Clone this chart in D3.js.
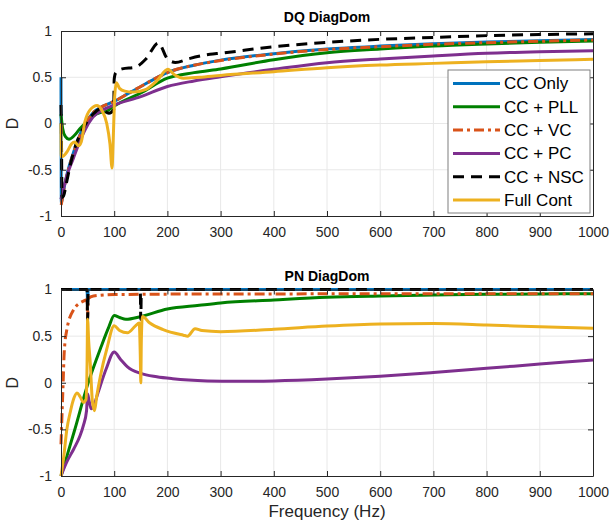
<!DOCTYPE html>
<html>
<head>
<meta charset="utf-8">
<script src="https://cdn.jsdelivr.net/npm/d3@7"></script>
<style>
   body { margin: 0; background: #fff; }
   svg { font-family: Arial, "Liberation Sans", sans-serif; }
</style>
</head>
<body>
<svg width="610" height="523"></svg>
<script>
// tick values
var xTicks = [0, 100, 200, 300, 400, 500, 600, 700, 800, 900, 1000];
var yTicks = [-1, -0.5, 0, 0.5, 1];

var seriesNames = ['CC Only', 'CC + PLL', 'CC + VC', 'CC + PC', 'CC + NSC', 'Full Cont'];

// DQ DiagDom, [frequency Hz, D]
var dqCcOnly = [[0, 0.5], [0.6, -0.86], [5, -0.72], [10, -0.58], [23, -0.32], [42, -0.04], [61, 0.12], [80, 0.19],
   [100, 0.24], [125, 0.32], [150, 0.4], [175, 0.48], [200, 0.55], [250, 0.63], [300, 0.685], [400, 0.755],
   [500, 0.805], [600, 0.837], [700, 0.862], [800, 0.88], [900, 0.895], [1000, 0.908]];
var dqCcPll = [[0, 0.1], [3, -0.05], [8, -0.14], [15, -0.17], [25, -0.13], [35, -0.06], [45, 0.0], [60, 0.08],
   [75, 0.12], [85, 0.13], [100, 0.19], [150, 0.33], [200, 0.49], [250, 0.55], [300, 0.59], [400, 0.69],
   [500, 0.765], [600, 0.805], [700, 0.838], [800, 0.86], [900, 0.878], [1000, 0.892]];
var dqCcVc = [[0.4, -0.88], [5, -0.73], [10, -0.59], [23, -0.33], [42, -0.05], [61, 0.12], [80, 0.19],
   [100, 0.24], [125, 0.32], [150, 0.4], [175, 0.48], [200, 0.55], [250, 0.63], [300, 0.68], [400, 0.75],
   [500, 0.8], [600, 0.83], [700, 0.856], [800, 0.874], [900, 0.889], [1000, 0.903]];
var dqCcPc = [[0, -0.82], [5, -0.7], [12, -0.55], [23, -0.38], [35, -0.2], [45, -0.07], [60, 0.07], [80, 0.15],
   [100, 0.2], [150, 0.29], [200, 0.4], [250, 0.46], [300, 0.505], [400, 0.586], [500, 0.658], [600, 0.697],
   [700, 0.73], [800, 0.759], [900, 0.776], [1000, 0.787]];
var dqCcNsc = [[0, 0.2], [0.5, 0.05], [2, -0.8], [5, -0.78], [10, -0.65], [17, -0.46], [28, -0.23], [40, -0.07],
   [60, 0.1], [75, 0.16], [90, 0.11], [99, 0.15], [100, 0.48], [103, 0.55], [115, 0.59], [140, 0.61], [160, 0.7],
   [183, 0.87], [200, 0.7], [215, 0.66], [240, 0.7], [280, 0.748], [300, 0.76], [400, 0.83], [500, 0.877],
   [600, 0.91], [700, 0.93], [800, 0.95], [900, 0.962], [1000, 0.97]];
var dqFullCont = [[0, 0], [0.5, -0.36], [5, -0.35], [12, -0.3], [20, -0.22], [26, -0.2], [33, -0.24], [38, -0.2],
   [45, 0.02], [55, 0.15], [68, 0.195], [78, 0.13], [86, 0.0], [92, -0.22], [96, -0.48], [98, -0.2], [101, 0.3],
   [104, 0.44], [110, 0.38], [120, 0.35], [135, 0.34], [160, 0.37], [180, 0.46], [201, 0.586], [214, 0.524],
   [230, 0.49], [260, 0.5], [300, 0.52], [400, 0.56], [500, 0.603], [600, 0.632], [700, 0.65], [800, 0.668],
   [900, 0.68], [1000, 0.694]];

// PN DiagDom, [frequency Hz, D]
var pnCcOnly = [[0, 1], [49, 1], [50, 0.85], [51, 1], [1000, 1]];
var pnCcPll = [[0, -1], [12, -0.77], [25, -0.52], [50, -0.02], [75, 0.38], [90, 0.6], [100, 0.72], [110, 0.7],
   [122, 0.68], [150, 0.71], [200, 0.79], [260, 0.83], [300, 0.855], [400, 0.887], [500, 0.916], [600, 0.93],
   [700, 0.94], [800, 0.948], [900, 0.952], [1000, 0.955]];
var pnCcVc = [[0, -0.66], [4, 0.0], [6, 0.32], [11, 0.57], [24, 0.786], [42, 0.875], [49, 0.89], [50, 0.7],
   [51, 0.9], [61, 0.93], [100, 0.946], [300, 0.952], [1000, 0.955]];
var pnCcPc = [[0, -1], [10, -0.86], [24, -0.71], [35, -0.58], [42, -0.46], [48, -0.3], [50, -0.12], [53, -0.2],
   [57, -0.28], [62, -0.24], [70, -0.1], [85, 0.15], [100, 0.33], [112, 0.25], [125, 0.17], [150, 0.1],
   [180, 0.064], [210, 0.043], [275, 0.02], [330, 0.015], [400, 0.02], [500, 0.04], [600, 0.07], [700, 0.11],
   [800, 0.155], [900, 0.2], [1000, 0.245]];
var pnCcNsc = [[0, 1], [49, 1], [50, 0.67], [51, 1], [149, 1], [150, 0.68], [151, 1], [1000, 1]];
var pnFullCont = [[0, -1], [5, -0.8], [11, -0.5], [18, -0.3], [24, -0.17], [30, -0.11], [36, -0.15], [42, -0.21],
   [47, -0.18], [49, 0.2], [50, 0.68], [52, 0.45], [55, 0.21], [59, -0.2], [63, -0.3], [67, -0.15], [74, 0.07],
   [86, 0.36], [100, 0.61], [110, 0.56], [125, 0.535], [140, 0.61], [147, 0.64], [149, 0.3], [150, 0.0],
   [151, 0.45], [153, 0.71], [167, 0.64], [192, 0.57], [230, 0.51], [238, 0.5], [252, 0.58], [265, 0.56],
   [300, 0.548], [400, 0.573], [500, 0.608], [600, 0.63], [700, 0.635], [800, 0.62], [900, 0.6], [1000, 0.584]];

var lineStyles = [
   {color: '#0072BD', dash: null},
   {color: '#008000', dash: null},
   {color: '#D95319', dash: '10,4,3,4'},
   {color: '#7E2F8E', dash: null},
   {color: '#000000', dash: '11,7'},
   {color: '#EDB120', dash: null}
];

var svg = d3.select('svg');
var axisColor = '#262626';

var x = d3.scaleLinear().domain([0, 1000]).range([61, 593]);

function drawPanel(title, yTop, yBottom, seriesData, clipId) {
   var y = d3.scaleLinear().domain([-1, 1]).range([yBottom, yTop]);
   var g = svg.append('g');

   // grid
   g.append('g').selectAll('line').data(xTicks.slice(1, -1)).enter().append('line')
      .attr('x1', function (d) { return x(d); })
      .attr('x2', function (d) { return x(d); })
      .attr('y1', yTop).attr('y2', yBottom)
      .attr('stroke', '#e8e8e8').attr('stroke-width', 1);
   g.append('g').selectAll('line').data(yTicks.slice(1, -1)).enter().append('line')
      .attr('x1', x(0)).attr('x2', x(1000))
      .attr('y1', function (d) { return y(d); })
      .attr('y2', function (d) { return y(d); })
      .attr('stroke', '#e8e8e8').attr('stroke-width', 1);

   g.append('clipPath').attr('id', clipId).append('rect')
      .attr('x', x(0) - 2).attr('y', yTop - 3)
      .attr('width', x(1000) - x(0) + 4).attr('height', yBottom - yTop + 6);

   var line = d3.line()
      .x(function (d) { return x(d[0]); })
      .y(function (d) { return y(d[1]); })
      .curve(d3.curveMonotoneX);

   var lines = g.append('g').attr('clip-path', 'url(#' + clipId + ')');
   seriesData.forEach(function (data, i) {
      lines.append('path')
         .attr('d', line(data))
         .attr('fill', 'none')
         .attr('stroke', lineStyles[i].color)
         .attr('stroke-width', 3)
         .attr('stroke-dasharray', lineStyles[i].dash)
         .attr('stroke-linejoin', 'round');
   });

   // axes, ticks inside on all four sides
   var bottom = g.append('g').attr('transform', 'translate(0,' + yBottom + ')')
      .call(d3.axisBottom(x).tickValues(xTicks).tickSizeInner(-5).tickSizeOuter(0).tickPadding(11)
         .tickFormat(d3.format('d')));
   var left = g.append('g').attr('transform', 'translate(' + x(0) + ',0)')
      .call(d3.axisLeft(y).tickValues(yTicks).tickSizeInner(-5).tickSizeOuter(0).tickPadding(9)
         .tickFormat(function (d) { return String(d); }));
   var top = g.append('g').attr('transform', 'translate(0,' + yTop + ')')
      .call(d3.axisTop(x).tickValues(xTicks).tickSizeInner(-5).tickSizeOuter(0).tickFormat(''));
   var right = g.append('g').attr('transform', 'translate(' + x(1000) + ',0)')
      .call(d3.axisRight(y).tickValues(yTicks).tickSizeInner(-5).tickSizeOuter(0).tickFormat(''));

   [bottom, left, top, right].forEach(function (a) {
      a.selectAll('path').attr('stroke', axisColor);
      a.selectAll('line').attr('stroke', axisColor);
      a.selectAll('text').attr('fill', axisColor).style('font-size', '14px')
         .style('font-family', 'Arial, "Liberation Sans", sans-serif');
   });

   g.append('text')
      .attr('x', (x(0) + x(1000)) / 2)
      .attr('y', yTop - 9)
      .attr('text-anchor', 'middle')
      .style('font-size', '14px').style('font-weight', 'bold')
      .attr('fill', '#000')
      .text(title);

   g.append('text')
      .attr('transform', 'translate(18,' + (yTop + yBottom) / 2 + ') rotate(-90)')
      .attr('text-anchor', 'middle')
      .style('font-size', '16px')
      .attr('fill', axisColor)
      .text('D');

   return g;
}

var dq = drawPanel('DQ DiagDom', 31, 216, [dqCcOnly, dqCcPll, dqCcVc, dqCcPc, dqCcNsc, dqFullCont], 'clipDq');
drawPanel('PN DiagDom', 289.5, 476, [pnCcOnly, pnCcPll, pnCcVc, pnCcPc, pnCcNsc, pnFullCont], 'clipPn');

svg.append('text')
   .attr('x', (x(0) + x(1000)) / 2)
   .attr('y', 517)
   .attr('text-anchor', 'middle')
   .style('font-size', '17px')
   .attr('fill', axisColor)
   .text('Frequency (Hz)');

// legend
var legend = dq.append('g').attr('transform', 'translate(448,70)');
legend.append('rect')
   .attr('width', 142).attr('height', 143)
   .attr('fill', '#fff').attr('stroke', '#7f7f7f').attr('stroke-width', 1);

var rows = legend.selectAll('.row').data(seriesNames).enter().append('g')
   .attr('class', 'row')
   .attr('transform', function (d, i) { return 'translate(0,' + (13.5 + i * 23.3) + ')'; });

rows.append('line')
   .attr('x1', 5).attr('x2', 52)
   .attr('stroke', function (d, i) { return lineStyles[i].color; })
   .attr('stroke-width', 3)
   .attr('stroke-dasharray', function (d, i) { return lineStyles[i].dash; });

rows.append('text')
   .attr('x', 56)
   .attr('dy', '0.35em')
   .style('font-size', '17px')
   .attr('fill', '#000')
   .text(function (d) { return d; });
</script>
</body>
</html>
